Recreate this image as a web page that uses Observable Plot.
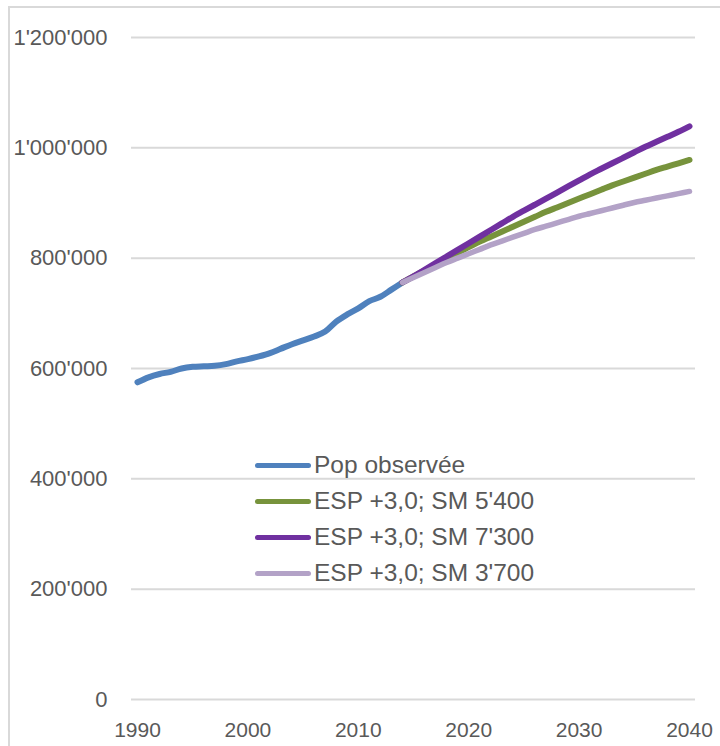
<!DOCTYPE html>
<html>
<head>
<meta charset="utf-8">
<script src="https://cdn.jsdelivr.net/npm/d3@7"></script>
<script src="https://cdn.jsdelivr.net/npm/@observablehq/plot@0.6"></script>
<style>
  html, body { margin: 0; padding: 0; background: #fff; }
  #wrap { position: relative; width: 720px; height: 746px; overflow: hidden; font-family: "Liberation Sans", Arial, sans-serif; }
  #border { position: absolute; left: 8px; top: 6px; width: 800px; height: 800px; border-left: 2px solid #d9d9d9; border-top: 2px solid #d9d9d9; box-sizing: border-box; }
  #chart { position: absolute; left: 0; top: 0; }
  #legend { position: absolute; left: 255px; top: 447px; }
  .row { display: flex; align-items: center; height: 36px; }
  .sw { width: 56px; height: 5px; border-radius: 3px; margin-right: 3px; }
  .lab { font-size: 24.5px; color: #595959; white-space: nowrap; }
</style>
</head>
<body>
<div id="wrap">
  <div id="border"></div>
  <div id="chart"></div>
  <div id="legend"></div>
</div>
<script>
// Observed population
const obsYears = [1990,1991,1992,1993,1994,1995,1996,1997,1998,1999,2000,2001,2002,2003,2004,2005,2006,2007,2008,2009,2010,2011,2012,2013,2014];
const obsValues = [575000,584000,590000,594000,600000,603000,604000,605000,608000,613000,617000,622000,628000,636000,644000,651000,658000,667000,685000,698000,709000,722000,730000,743000,756000];

// Projections
const projYears = [2014,2015,2016,2017,2018,2019,2020,2021,2022,2023,2024,2025,2026,2027,2028,2029,2030,2031,2032,2033,2034,2035,2036,2037,2038,2039,2040];
const sm5400 = [756000,767000,778000,789000,799000,810000,820000,830000,839000,848000,857000,866000,875000,884000,892000,900000,908000,916000,924000,932000,939000,946000,953000,960000,966000,972000,978000];
const sm7300 = [756000,767000,779000,791000,803000,815000,827000,839000,851000,863000,875000,886000,897000,908000,919000,930000,941000,952000,962000,972000,982000,992000,1002000,1011000,1020000,1029000,1039000];
const sm3700 = [756000,765000,774000,783000,792000,800000,808000,816000,824000,831000,838000,845000,852000,858000,864000,870000,876000,881000,886000,891000,896000,901000,905000,909000,913000,917000,921000];

const seriesNames = ["Pop observée", "ESP +3,0; SM 5'400", "ESP +3,0; SM 7'300", "ESP +3,0; SM 3'700"];
const seriesColors = ["#4F81BD", "#77933C", "#7030A0", "#B3A2C7"];

const yTicks = [0, 200000, 400000, 600000, 800000, 1000000, 1200000];
const xTicks = [1990, 2000, 2010, 2020, 2030, 2040];

const rows = [];
obsYears.forEach((yr, i) => rows.push({year: yr, value: obsValues[i], series: seriesNames[0]}));
projYears.forEach((yr, i) => rows.push({year: yr, value: sm5400[i], series: seriesNames[1]}));
projYears.forEach((yr, i) => rows.push({year: yr, value: sm7300[i], series: seriesNames[2]}));
projYears.forEach((yr, i) => rows.push({year: yr, value: sm3700[i], series: seriesNames[3]}));

const loc = d3.formatLocale({decimal: ".", thousands: "'", grouping: [3], currency: ["", ""]});
const fmt = loc.format(",");

const chart = Plot.plot({
  width: 720,
  height: 746,
  marginLeft: 131,
  marginRight: 25,
  marginTop: 37,
  marginBottom: 47,
  style: {fontFamily: "'Liberation Sans', Arial, sans-serif", fontSize: "21px", color: "#595959", background: "transparent", overflow: "visible"},
  x: {domain: [1990, 2040], inset: 6},
  y: {domain: [0, 1200000]},
  color: {domain: seriesNames, range: seriesColors},
  marks: [
    Plot.ruleY(yTicks, {stroke: "#d9d9d9", strokeWidth: 2}),
    Plot.axisY(yTicks, {tickSize: 0, tickPadding: 24, tickFormat: fmt, label: null, fill: "#595959", fontSize: 22}),
    Plot.axisX(xTicks, {tickSize: 0, tickPadding: 23, tickFormat: d => String(d), label: null, fill: "#595959", fontSize: 21}),
    ...seriesNames.map((name, i) => Plot.line(rows.filter(d => d.series === name), {
      x: "year", y: "value", stroke: seriesColors[i], strokeWidth: i === 3 ? 5.5 : 6,
      curve: i === 0 ? "catmull-rom" : "monotone-x", strokeLinecap: "round", strokeLinejoin: "round"
    }))
  ]
});
document.getElementById("chart").appendChild(chart);

const legend = document.getElementById("legend");
seriesNames.forEach((name, i) => {
  const row = document.createElement("div");
  row.className = "row";
  const sw = document.createElement("div");
  sw.className = "sw";
  sw.style.background = seriesColors[i];
  const lab = document.createElement("div");
  lab.className = "lab";
  lab.textContent = name;
  row.appendChild(sw);
  row.appendChild(lab);
  legend.appendChild(row);
});
</script>
</body>
</html>
